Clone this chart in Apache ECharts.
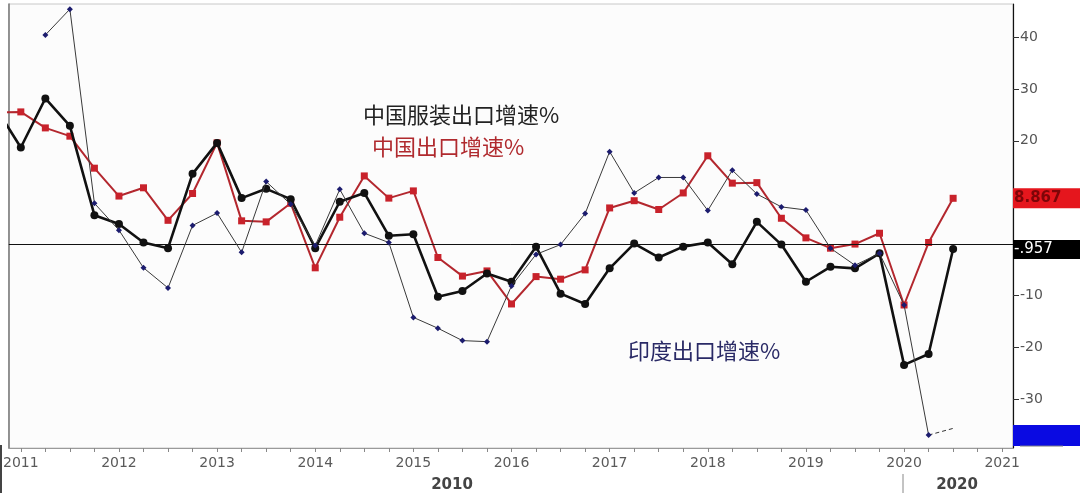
<!DOCTYPE html>
<html><head><meta charset="utf-8">
<script src="https://cdn.jsdelivr.net/npm/echarts@6/dist/echarts.min.js"></script>
<style>html,body{margin:0;padding:0;background:#fff}#c{width:1080px;height:493px}</style>
</head><body><div id="c"></div>
<script>
// Quarterly observations, 2010Q4 .. 2020Q3
const quarters = [
  '2010Q4',
  '2011Q1','2011Q2','2011Q3','2011Q4',
  '2012Q1','2012Q2','2012Q3','2012Q4',
  '2013Q1','2013Q2','2013Q3','2013Q4',
  '2014Q1','2014Q2','2014Q3','2014Q4',
  '2015Q1','2015Q2','2015Q3','2015Q4',
  '2016Q1','2016Q2','2016Q3','2016Q4',
  '2017Q1','2017Q2','2017Q3','2017Q4',
  '2018Q1','2018Q2','2018Q3','2018Q4',
  '2019Q1','2019Q2','2019Q3','2019Q4',
  '2020Q1','2020Q2','2020Q3'
];
// 中国服装出口增速%
const apparelExport = [
  26.3,
  18.7, 28.2, 22.9, 5.6,
  3.9, 0.3, -0.8, 13.6,
  19.6, 8.9, 10.7, 8.7,
  -0.8, 8.2, 9.9, 1.6,
  1.9, -10.2, -9.1, -5.7,
  -7.3, -0.5, -9.6, -11.6,
  -4.7, 0.1, -2.6, -0.5,
  0.3, -3.9, 4.3, -0.1,
  -7.3, -4.4, -4.7, -1.8,
  -23.4, -21.3, -0.957
];
// 中国出口增速%
const chinaExport = [
  25.5,
  25.6, 22.5, 20.9, 14.7,
  9.3, 10.9, 4.6, 9.8,
  19.6, 4.5, 4.3, 7.9,
  -4.6, 5.2, 13.2, 8.9,
  10.3, -2.6, -6.2, -5.2,
  -11.6, -6.3, -6.8, -5.0,
  7.0, 8.4, 6.7, 9.9,
  17.1, 11.8, 11.9, 5.0,
  1.2, -0.8, 0.0, 2.1,
  -11.8, 0.3, 8.867
];
// 印度出口增速% (last point is the dashed estimate)
const indiaExport = [
  null,
  null, 40.5, 45.5, 7.9,
  2.7, -4.6, -8.5, 3.6,
  6.0, -1.6, 12.1, 7.7,
  -0.3, 10.6, 2.1, 0.3,
  -14.2, -16.3, -18.7, -18.9,
  -8.1, -2.0, -0.1, 5.9,
  17.9, 9.9, 12.9, 12.9,
  6.5, 14.3, 9.7, 7.2,
  6.6, -0.8, -4.1, -1.8,
  -11.8, -37.0, -35.7
];
const yearLabels = [2011,2012,2013,2014,2015,2016,2017,2018,2019,2020,2021];
const yTickValues = [-30,-20,-10,0,10,20,30,40];
const yLabelValues = [-30,-20,-10,20,30,40];
const endLabels = { china: '8.867', apparel: '-.957' };

function qx(q){ return parseInt(q.slice(0,4),10) + (parseInt(q.slice(5),10)-1)/4; }
const quarterTicks = [];
yearLabels.forEach(y => { for (let i=0;i<4;i++){ if (y + i/4 <= 2021) quarterTicks.push(y + i/4); } });

const X0 = 2010.878, X1 = 2021.11;
const chart = echarts.init(document.getElementById('c'), null, {renderer:'canvas'});
const n = quarters.length;
const pts = arr => quarters.map((q,i) => [qx(q), arr[i]]);
const indiaSolid = quarters.map((q,i) => [qx(q), i <= n-2 ? indiaExport[i] : null]);
const indiaDash = quarters.map((q,i) => [qx(q), i >= n-2 ? indiaExport[i] : null]);

chart.setOption({
  animation: false,
  backgroundColor: '#ffffff',
  grid: { left: 4, right: 67, top: 4, bottom: 45, show: true, borderColor: '#c8c8c8', borderWidth: 1, backgroundColor: '#fcfcfc' },
  xAxis: {
    type: 'value', min: X0, max: X1,
    axisLine: { show: true, onZero: false, lineStyle: { color: '#9a9a9a', width: 1 } },
    axisTick: { show: true, customValues: quarterTicks, length: 4, lineStyle: { color: '#888' } },
    axisLabel: { customValues: yearLabels, formatter: v => String(Math.round(v)), color: '#5a5a5a',
      fontFamily: 'DejaVu Sans', fontSize: 14, margin: 8 },
    splitLine: { show: false }
  },
  yAxis: [{
    type: 'value', position: 'right', min: -39.5, max: 46.5,
    axisLine: { show: true, lineStyle: { color: '#111', width: 1.2 } },
    axisTick: { show: true, customValues: yTickValues, length: 6, lineStyle: { color: '#333' } },
    axisLabel: { customValues: yLabelValues, color: '#555', fontFamily: 'DejaVu Sans', fontSize: 14, margin: 7 },
    splitLine: { show: false }
  }, {
    type: 'value', position: 'left', min: -39.5, max: 46.5,
    axisLine: { show: true, lineStyle: { color: '#777', width: 1.5 } },
    axisTick: { show: false }, axisLabel: { show: false }, splitLine: { show: false }
  }],
  series: [
    {
      name: '中国出口增速%', type: 'line', data: pts(chinaExport),
      symbol: 'rect', symbolSize: 7,
      itemStyle: { color: '#c8222b' }, lineStyle: { color: '#b3272e', width: 2 },
      markLine: { silent: true, symbol: 'none', label: { show: false },
        lineStyle: { color: '#111', width: 1, type: 'solid' }, data: [{ yAxis: 0 }] },
      z: 3
    },
    {
      name: '中国服装出口增速%', type: 'line', data: pts(apparelExport),
      symbol: 'circle', symbolSize: 8,
      itemStyle: { color: '#111' }, lineStyle: { color: '#111', width: 2.6 },
      z: 4
    },
    {
      name: '印度出口增速%', type: 'line', data: indiaSolid, connectNulls: false,
      symbol: 'diamond', symbolSize: 6,
      itemStyle: { color: '#1c1c6e' }, lineStyle: { color: '#3a3a3a', width: 1 },
      z: 5
    },
    {
      name: '印度出口增速% 估', type: 'line', data: indiaDash, connectNulls: false,
      showSymbol: false, symbol: 'none',
      lineStyle: { color: '#333', width: 1, type: [4, 3] },
      z: 5
    }
  ]
});

function py(v){ return chart.convertToPixel({yAxisIndex:0}, v); }
const rightX = chart.convertToPixel({xAxisIndex:0}, X1);
const yChina = py(chinaExport[n-1]);
const yApp = py(apparelExport[n-1]);
const yIndia = py(indiaExport[n-2]);
const boxW = 1080 - rightX;

chart.setOption({
  graphic: [
    { type: 'rect', z: 100, shape: { x: rightX, y: yChina - 10, width: boxW, height: 20 }, style: { fill: '#e5161d' } },
    { type: 'text', z: 101, x: rightX + 1, y: yChina, style: { text: endLabels.china, fill: '#7e0508',
        font: 'bold 15px "DejaVu Sans"', textVerticalAlign: 'middle' } },
    { type: 'rect', z: 100, shape: { x: rightX, y: yApp - 9, width: boxW, height: 19 }, style: { fill: '#000' } },
    { type: 'text', z: 101, x: rightX + 1, y: yApp, style: { text: endLabels.apparel, fill: '#fff',
        font: '15px "DejaVu Sans"', textVerticalAlign: 'middle' } },
    { type: 'rect', z: 100, shape: { x: rightX, y: yIndia - 10, width: boxW, height: 21 }, style: { fill: '#0a0ae2' } },
    { type: 'line', z: 100, shape: { x1: rightX + 7, y1: yIndia + 11, x2: rightX + 50, y2: yIndia + 11 }, style: { stroke: '#888', lineWidth: 1 } },

    { type: 'text', z: 50, x: 363, y: 115, style: { text: '中国服装出口增速%', fill: '#222',
        font: '22px "Noto Sans CJK SC"', textVerticalAlign: 'middle' } },
    { type: 'text', z: 50, x: 372, y: 147, style: { text: '中国出口增速%', fill: '#b02a2e',
        font: '22px "Noto Sans CJK SC"', textVerticalAlign: 'middle' } },
    { type: 'text', z: 50, x: 628, y: 351, style: { text: '印度出口增速%', fill: '#2a2a66',
        font: '22px "Noto Sans CJK SC"', textVerticalAlign: 'middle' } },

    { type: 'text', z: 50, x: 452, y: 485, style: { text: '2010', fill: '#444',
        font: 'bold 15px "DejaVu Sans"', textAlign: 'center', textVerticalAlign: 'middle' } },
    { type: 'text', z: 50, x: 957, y: 485, style: { text: '2020', fill: '#444',
        font: 'bold 15px "DejaVu Sans"', textAlign: 'center', textVerticalAlign: 'middle' } },
    { type: 'line', z: 50, shape: { x1: 903, y1: 474, x2: 903, y2: 493 }, style: { stroke: '#888', lineWidth: 1 } },
    { type: 'line', z: 50, shape: { x1: 1, y1: 445, x2: 1, y2: 493 }, style: { stroke: '#444', lineWidth: 2 } }
  ]
});
</script>
</body></html>
